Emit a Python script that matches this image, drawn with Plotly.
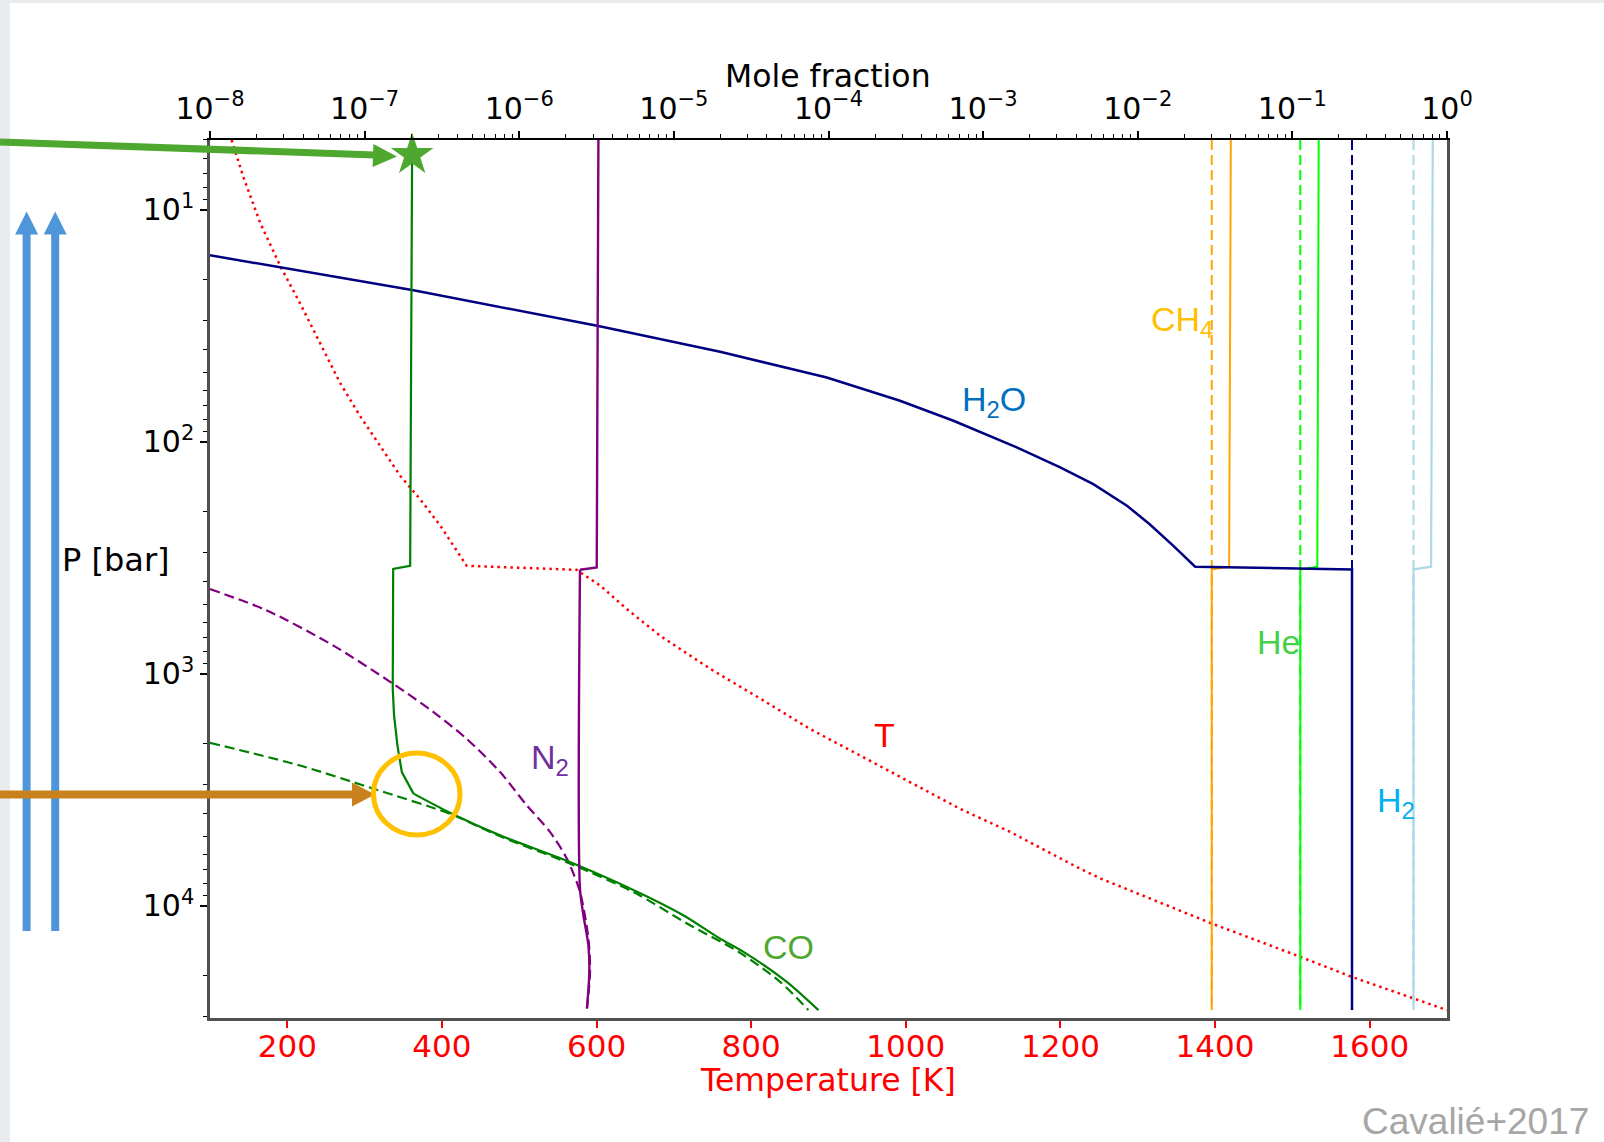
import plotly.graph_objects as go

# ---------------- data ----------------
# Temperature profile (bottom axis, K) vs pressure (bar)
T_K = [128, 143, 165, 191, 216, 242, 268, 294, 320, 346, 372, 398, 432, 574, 605, 639,
       682, 747, 812, 876, 941, 1006, 1070, 1135, 1221, 1252, 1396, 1510, 1577, 1657, 1700]
T_P = [5.0, 7.2, 11.4, 17.5, 25.1, 37.3, 55.5, 77.3, 104, 140, 177, 230, 342, 356, 417, 525,
       684, 951, 1279, 1726, 2249, 2924, 3811, 4797, 6792, 7621, 11912, 16558, 20230, 25060, 28120]

# H2O profile (mole fraction vs pressure)
H2O_X = [1e-8, 2.07e-7, 3.25e-6, 1.99e-5, 9.75e-5, 2.90e-4, 6.43e-4, 1.65e-3, 3.15e-3,
         5.16e-3, 8.51e-3, 1.19e-2, 1.70e-2, 2.35e-2, 0.243, 0.243]
H2O_P = [15.7, 22.2, 31.7, 40.9, 52.8, 66.5, 81.1, 105.7, 128.8, 152.1, 188.4, 225.9,
         280.5, 345.1, 354.8, 28120]
H2O_DEEP = 0.243

# CO profile (solid) and CO equilibrium (dashed)
CO_X = [2.03e-7, 1.97e-7, 1.53e-7, 1.52e-7, 1.55e-7, 1.63e-7, 1.74e-7, 2.07e-7, 3.56e-7,
        7.52e-7, 2.03e-6, 5.47e-6, 1.15e-5, 1.99e-5, 2.82e-5, 5.37e-5, 8.61e-5]
CO_P = [5.0, 342, 353, 1161, 1510, 2032, 2649, 3281, 3963, 4966, 6383, 8531, 10965,
        13836, 15776, 21232, 28120]
CO_EQ_X = [1e-8, 3.82e-8, 1.14e-7, 3.56e-7, 7.52e-7, 2.03e-6, 5.47e-6, 1.24e-5,
           2.62e-5, 4.86e-5, 7.41e-5]
CO_EQ_P = [1982, 2483, 3126, 4009, 5012, 6486, 8710, 11995, 15776, 21232, 28120]

# N2 profile (solid) and N2 equilibrium (dashed)
N2_X = [3.25e-6, 3.17e-6, 2.47e-6, 2.47e-6, 2.60e-6, 2.80e-6, 2.84e-6, 2.74e-6]
N2_P = [5.0, 347.5, 355.6, 8414, 10965, 14791, 19231, 27670]
N2_EQ_X = [1e-8, 2.33e-8, 6.28e-8, 1.53e-7, 2.79e-7, 4.57e-7, 7.52e-7, 1.12e-6,
           1.58e-6, 2.03e-6, 2.47e-6, 2.80e-6, 2.87e-6, 2.74e-6]
N2_EQ_P = [431, 533, 755, 1104, 1462, 1905, 2649, 3690, 4797, 6252, 8710, 13836, 19231, 27670]

# Well-mixed species: upper (solid) values and deep values
STEP_P = [5.0, 345.1, 354.8, 28120]
CH4_X = [0.0400, 0.0390, 0.0301, 0.0301]
HE_X = [0.148, 0.145, 0.1125, 0.1125]
H2_X = [0.809, 0.789, 0.607, 0.607]
CH4_DEEP = 0.0301
HE_DEEP = 0.1125
H2_DEEP = 0.607
DEEP_P = [5.0, 28120]

STAR_X = [2.03e-7]
STAR_P = [5.8]

T_TICKS = [200, 400, 600, 800, 1000, 1200, 1400, 1600]
X_TICKS = [1e-8, 1e-7, 1e-6, 1e-5, 1e-4, 1e-3, 1e-2, 1e-1, 1e0]
X_TICKTEXT = ["10<sup>\u22128</sup>", "10<sup>\u22127</sup>", "10<sup>\u22126</sup>",
              "10<sup>\u22125</sup>", "10<sup>\u22124</sup>", "10<sup>\u22123</sup>",
              "10<sup>\u22122</sup>", "10<sup>\u22121</sup>", "10<sup>0</sup>"]
P_TICKS = [10, 100, 1000, 10000]
P_TICKTEXT = ["10<sup>1</sup>", "10<sup>2</sup>", "10<sup>3</sup>", "10<sup>4</sup>"]

# ---------------- layout geometry ----------------
FW, FH = 1604, 1142
L, R, T0, B0 = 210, 1447, 140, 1018
W, H = R - L, B0 - T0


def fx(px):
    return (px - L) / W


def fy(py):
    return (B0 - py) / H


AX_FONT = "DejaVu Sans"
LBL_FONT = "Liberation Sans"

fig = go.Figure()


def add_line(x, y, color, dash="solid", width=2.2, axis="x2", shape="linear"):
    fig.add_trace(go.Scatter(x=x, y=y, mode="lines", xaxis=axis, yaxis="y",
                             line=dict(color=color, width=width, dash=dash, shape=shape,
                                       smoothing=0.8 if shape == "spline" else None),
                             showlegend=False, hoverinfo="skip"))


DASH = "10px,5px"
JOIN = 7  # index where the CO profile meets the equilibrium curve
# dashed (deep / equilibrium) lines
add_line([CH4_DEEP, CH4_DEEP], DEEP_P, "orange", DASH, 2.0)
add_line([HE_DEEP, HE_DEEP], DEEP_P, "lime", DASH, 2.0)
add_line([H2O_DEEP, H2O_DEEP], DEEP_P, "navy", DASH, 2.0)
add_line([H2_DEEP, H2_DEEP], DEEP_P, "lightblue", DASH, 2.0)
add_line(CO_EQ_X, CO_EQ_P, "green", DASH, 2.2, shape="spline")
add_line(N2_EQ_X, N2_EQ_P, "purple", DASH, 2.2, shape="spline")
# solid profiles
add_line(CH4_X, STEP_P, "orange", "solid", 2.0)
add_line(HE_X, STEP_P, "lime", "solid", 2.0)
add_line(H2_X, STEP_P, "lightblue", "solid", 2.2)
add_line(H2O_X, H2O_P, "navy", "solid", 2.5)
add_line(CO_X[:JOIN + 1], CO_P[:JOIN + 1], "green", "solid", 2.2)
add_line(CO_X[JOIN:], CO_P[JOIN:], "green", "solid", 2.2, shape="spline")
add_line(N2_X[:3], N2_P[:3], "purple", "solid", 2.4)
add_line(N2_X[2:], N2_P[2:], "purple", "solid", 2.4, shape="spline")
# temperature
add_line(T_K, T_P, "red", "2.5px,4px", 2.5, axis="x")

# star
fig.add_trace(go.Scatter(x=STAR_X, y=STAR_P, mode="markers", xaxis="x2", yaxis="y",
                         marker=dict(symbol="star", size=32, color="#4EA72E",
                                     line=dict(width=0)),
                         cliponaxis=False, showlegend=False, hoverinfo="skip"))

# ---------------- shapes (slide decorations) ----------------
shapes = []
strip = "#E8ECEF"
shapes.append(dict(type="rect", xref="paper", yref="paper", x0=fx(0), x1=fx(10),
                   y0=fy(FH), y1=fy(0), fillcolor=strip, line_width=0, layer="below"))
shapes.append(dict(type="rect", xref="paper", yref="paper", x0=fx(0), x1=fx(FW),
                   y0=fy(3), y1=fy(0), fillcolor=strip, line_width=0, layer="below"))


def tri(p1, p2, p3, color):
    path = "M {} {} L {} {} L {} {} Z".format(fx(p1[0]), fy(p1[1]), fx(p2[0]), fy(p2[1]),
                                              fx(p3[0]), fy(p3[1]))
    return dict(type="path", xref="paper", yref="paper", path=path, fillcolor=color,
                line_width=0, layer="above")


BLUE = "#4E95D9"
for cx in (26.6, 55.2):
    shapes.append(dict(type="rect", xref="paper", yref="paper", x0=fx(cx - 4), x1=fx(cx + 4),
                       y0=fy(931), y1=fy(233), fillcolor=BLUE, line_width=0, layer="above"))
    shapes.append(tri((cx - 11.5, 234.5), (cx + 11.5, 234.5), (cx, 211.5), BLUE))

GREEN = "#4EA72E"
shapes.append(dict(type="line", xref="paper", yref="paper", x0=fx(0), y0=fy(142),
                   x1=fx(375), y1=fy(155), line=dict(color=GREEN, width=7), layer="above"))
shapes.append(tri((373.4, 144.0), (372.6, 167.0), (397, 156.5), GREEN))

BROWN = "#C8811C"
shapes.append(dict(type="line", xref="paper", yref="paper", x0=fx(0), y0=fy(794.5),
                   x1=fx(353), y1=fy(794.5), line=dict(color=BROWN, width=8), layer="above"))
shapes.append(tri((352, 782.5), (352, 806.5), (375, 794.5), BROWN))

shapes.append(dict(type="circle", xref="paper", yref="paper", x0=fx(373.5), x1=fx(460),
                   y0=fy(835), y1=fy(753), line=dict(color="#FFC000", width=5), layer="above"))

# ---------------- annotations ----------------
ann = []


def text(s, px, py, color, size, font=LBL_FONT, xanchor="center", yanchor="middle"):
    ann.append(dict(text=s, x=fx(px), y=fy(py), xref="paper", yref="paper",
                    showarrow=False, xanchor=xanchor, yanchor=yanchor,
                    font=dict(family=font, size=size, color=color)))


text("Mole fraction", 827.6, 76.0, "black", 31.5, AX_FONT)
text("Temperature [K]", 827.6, 1080, "red", 31.5, AX_FONT)
text("P [bar]", 115.5, 560, "black", 32, AX_FONT)
text("H<sub>2</sub>O", 960, 401, "#0070C0", 34, xanchor="left")
text("CH<sub>4</sub>", 1149, 321, "#FFC000", 34, xanchor="left")
text("He", 1255, 642, "#45D04A", 34, xanchor="left")
text("H<sub>2</sub>", 1375, 802, "#00B0F0", 34, xanchor="left")
text("T", 885, 734.5, "#FF0000", 34)
text("N<sub>2</sub>", 529, 759, "#7030A0", 34, xanchor="left")
text("CO", 761, 947, "#4EA72E", 34, xanchor="left")
text("Cavali\u00e9+2017", 1591, 1121, "#A6A6A6", 37, xanchor="right")

X_MINOR = [m * 10 ** e for e in range(-8, 0) for m in range(2, 10)]
P_MINOR = [m * 10 ** e for e in range(0, 5) for m in range(2, 10)]

AXLINE = "#505050"
fig.update_layout(
    width=FW, height=FH, autosize=False,
    margin=dict(l=L, r=FW - R, t=T0, b=FH - B0, pad=0),
    paper_bgcolor="white", plot_bgcolor="white",
    showlegend=False,
    font=dict(family=AX_FONT, size=30, color="black"),
    xaxis=dict(type="linear", range=[100, 1700], tickvals=T_TICKS,
               ticks="outside", ticklen=7, tickwidth=1.5, tickcolor="red",
               tickfont=dict(family=AX_FONT, size=31, color="red"),
               ticklabelstandoff=-8,
               showline=True, linecolor=AXLINE, linewidth=3, mirror=False,
               showgrid=False, zeroline=False),
    xaxis2=dict(type="log", range=[-8, 0], overlaying="x", side="top", anchor="y",
                tickvals=X_TICKS, ticktext=X_TICKTEXT,
                ticks="outside", ticklen=7, tickwidth=1.5, tickcolor="black",
                tickfont=dict(family=AX_FONT, size=30, color="black"),
                minor=dict(tickmode="array", tickvals=X_MINOR, ticks="outside",
                           ticklen=4, tickwidth=1, tickcolor="black", showgrid=False),
                showline=True, linecolor="black", linewidth=2,
                showgrid=False, zeroline=False),
    yaxis=dict(type="log", range=[4.483, 0.699], tickvals=P_TICKS, ticktext=P_TICKTEXT,
               ticks="outside", ticklen=7, tickwidth=1.5, tickcolor="black",
               tickfont=dict(family=AX_FONT, size=30, color="black"),
               minor=dict(tickmode="array", tickvals=P_MINOR, ticks="outside",
                          ticklen=4, tickwidth=1, tickcolor="black", showgrid=False),
               showline=True, linecolor=AXLINE, linewidth=2.5, mirror=True,
               showgrid=False, zeroline=False),
    shapes=shapes,
    annotations=ann,
)

fig.write_html("out.html", config={"displayModeBar": False},
               post_script="document.body.style.margin='0';document.body.style.overflow='hidden';")
